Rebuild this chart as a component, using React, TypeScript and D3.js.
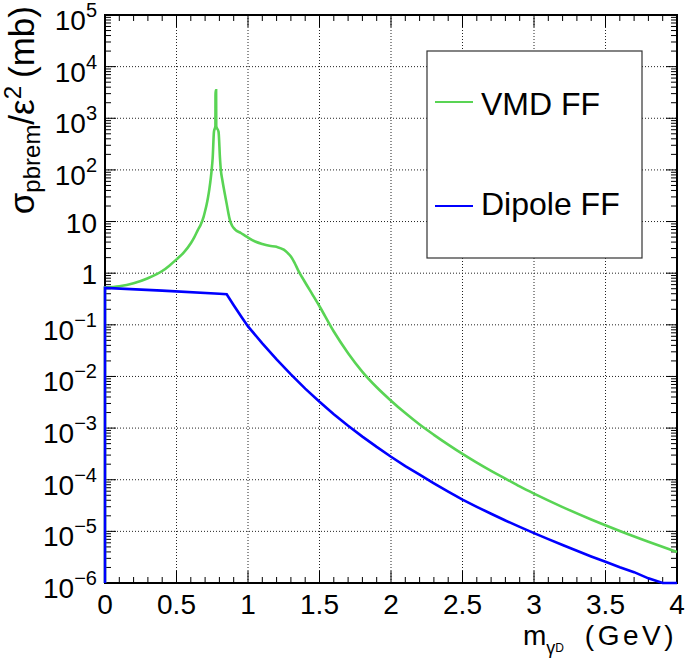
import React from "react";
import * as d3 from "d3";

// ---- data ----
const massVMD = [0, 0.1, 0.2, 0.3, 0.4, 0.45, 0.5, 0.55, 0.6, 0.625, 0.65, 0.67, 0.69, 0.7, 0.71, 0.72, 0.73, 0.74, 0.746, 0.753, 0.762, 0.772, 0.773, 0.777, 0.778, 0.794, 0.804, 0.81, 0.82, 0.83, 0.84, 0.851, 0.862, 0.874, 0.89, 0.91, 0.95, 0.99, 1.05, 1.1, 1.15, 1.2, 1.25, 1.275, 1.3, 1.325, 1.35, 1.4, 1.45, 1.5, 1.6, 1.7, 1.8, 1.9, 2.0, 2.1, 2.2, 2.3, 2.4, 2.5, 2.6, 2.7, 2.8, 2.9, 3.0, 3.2, 3.4, 3.6, 3.8, 4.0];
const xsecVMD = [0.53, 0.56, 0.64, 0.8, 1.1, 1.4, 1.85, 2.5, 3.8, 5.0, 6.9, 8.8, 12.5, 16, 21, 29, 43, 70, 100, 170, 550, 700, 3500, 3500, 700, 550, 170, 100, 65, 45, 32, 22, 15, 10.5, 8.2, 7, 6, 5.1, 4.1, 3.67, 3.39, 3.24, 2.85, 2.5, 2.1, 1.6, 1.15, 0.66, 0.39, 0.229, 0.0741, 0.0282, 0.0123, 0.00617, 0.00339, 0.00195, 0.00117, 0.000741, 0.000479, 0.000316, 0.000214, 0.000148, 0.000105, 0.0000741, 0.0000537, 0.0000295, 0.000017, 0.0000102, 0.00000631, 0.00000398];

const massDipole = [0, 0.4, 0.8, 0.851, 0.9, 0.95, 1.0, 1.1, 1.2, 1.3, 1.4, 1.5, 1.6, 1.7, 1.8, 1.9, 2.0, 2.1, 2.2, 2.3, 2.4, 2.5, 2.6, 2.7, 2.8, 2.9, 3.0, 3.1, 3.2, 3.3, 3.4, 3.5, 3.6, 3.7, 3.8, 3.9, 4.0];
const xsecDipole = [0.52, 0.46, 0.4, 0.39, 0.24, 0.148, 0.0933, 0.0437, 0.0214, 0.011, 0.00582, 0.00324, 0.00186, 0.00111, 0.000684, 0.000432, 0.000279, 0.000184, 0.000125, 0.0000851, 0.0000589, 0.0000412, 0.0000299, 0.0000219, 0.0000162, 0.0000122, 0.00000923, 0.00000708, 0.00000543, 0.00000422, 0.00000327, 0.00000257, 0.00000202, 0.00000162, 0.00000123, 0.00000095, 0.00000079];

const seriesNames = ["VMD FF", "Dipole FF"];
const seriesColors = ["#59d454", "#0000ff"];

const xMajorTicks = [0, 0.5, 1, 1.5, 2, 2.5, 3, 3.5, 4];
const xTickLabels = ["0", "0.5", "1", "1.5", "2", "2.5", "3", "3.5", "4"];
const yDecades = [-6, -5, -4, -3, -2, -1, 0, 1, 2, 3, 4, 5];

// ---- layout ----
const W = 685, H = 665;
const L = 105, R = 677, T = 15, B = 583;
const FONT = "'Liberation Sans', Arial, Helvetica, sans-serif";

export default function App() {
  const x = d3.scaleLinear().domain([0, 4]).range([L, R]);
  const y = d3.scaleLog().domain([1e-6, 1e5]).range([B, T]).clamp(true);

  const makePath = (ms: number[], vs: number[], curve: d3.CurveFactory) => {
    const line = d3
      .line<[number, number]>()
      .x((d) => x(d[0]))
      .y((d) => y(d[1]))
      .curve(curve);
    const pts = ms.map((m, i) => [m, vs[i]] as [number, number]);
    const s = line(pts) || "";
    return `M${x(ms[0])},${B}` + s.replace(/^M/, "L");
  };

  const xMinor = d3
    .range(0, 41)
    .map((i) => i / 10)
    .filter((v) => Math.abs(v * 2 - Math.round(v * 2)) > 1e-6);
  const yMinor: number[] = [];
  yDecades.slice(0, -1).forEach((d) => {
    for (let k = 2; k <= 9; k++) yMinor.push(k * Math.pow(10, d));
  });

  const gridStyle = { stroke: "#222", strokeWidth: 1, strokeDasharray: "1,2" };

  const yLabel = (d: number) => {
    const yy = y(Math.pow(10, d));
    if (d === 0 || d === 1) {
      return (
        <text key={d} x={97} y={yy + 11} textAnchor="end" fontSize={28}>
          {d === 0 ? "1" : "10"}
        </text>
      );
    }
    const exp = d < 0 ? "\u2212" + Math.abs(d) : String(d);
    return (
      <text key={d} x={97} y={yy + 15} textAnchor="end" fontSize={28}>
        10
        <tspan dy={-13} fontSize={20}>
          {exp}
        </tspan>
      </text>
    );
  };

  return (
    <svg
      width={W}
      height={H}
      style={{ position: "absolute", left: 0, top: 0, background: "#fff" }}
      fontFamily={FONT}
    >
      <defs>
        <clipPath id="plotclip">
          <rect x={L - 3} y={T - 3} width={R - L + 6} height={B - T + 6} />
        </clipPath>
      </defs>
      <rect x={0} y={0} width={W} height={H} fill="#fff" />

      {/* grid */}
      <g>
        {xMajorTicks.slice(1, -1).map((v) => (
          <line key={"gx" + v} x1={x(v)} x2={x(v)} y1={T} y2={B} {...gridStyle} />
        ))}
        {yDecades.slice(1, -1).map((d) => (
          <line key={"gy" + d} x1={L} x2={R} y1={y(Math.pow(10, d))} y2={y(Math.pow(10, d))} {...gridStyle} />
        ))}
      </g>

      {/* ticks */}
      <g stroke="#000" strokeWidth={1}>
        {xMajorTicks.map((v) => (
          <g key={"tx" + v}>
            <line x1={x(v)} x2={x(v)} y1={B} y2={B - 12} />
            <line x1={x(v)} x2={x(v)} y1={T} y2={T + 12} />
          </g>
        ))}
        {xMinor.map((v) => (
          <g key={"mx" + v}>
            <line x1={x(v)} x2={x(v)} y1={B} y2={B - 6} />
            <line x1={x(v)} x2={x(v)} y1={T} y2={T + 6} />
          </g>
        ))}
        {yDecades.map((d) => (
          <g key={"ty" + d}>
            <line x1={L} x2={L + 11} y1={y(Math.pow(10, d))} y2={y(Math.pow(10, d))} />
            <line x1={R} x2={R - 11} y1={y(Math.pow(10, d))} y2={y(Math.pow(10, d))} />
          </g>
        ))}
        {yMinor.map((v, i) => (
          <g key={"my" + i}>
            <line x1={L} x2={L + 6} y1={y(v)} y2={y(v)} />
            <line x1={R} x2={R - 6} y1={y(v)} y2={y(v)} />
          </g>
        ))}
      </g>

      {/* frame */}
      <rect x={L} y={T} width={R - L} height={B - T} fill="none" stroke="#000" strokeWidth={2} />

      {/* curves */}
      <g clipPath="url(#plotclip)" fill="none" strokeWidth={2.6} strokeLinejoin="miter">
        <path d={makePath(massVMD, xsecVMD, d3.curveMonotoneX)} stroke={seriesColors[0]} />
        <path d={makePath(massDipole, xsecDipole, d3.curveLinear)} stroke={seriesColors[1]} />
      </g>

      {/* x tick labels */}
      {xMajorTicks.map((v, i) => (
        <text key={"lx" + v} x={x(v)} y={614} textAnchor="middle" fontSize={28}>
          {xTickLabels[i]}
        </text>
      ))}

      {/* y tick labels */}
      {yDecades.map((d) => yLabel(d))}

      {/* x title */}
      <text x={523} y={645} fontSize={28}>
        m
        <tspan fontSize={18} dy={9}>
          γ
        </tspan>
        <tspan fontSize={12} dy={-2}>
          D
        </tspan>
      </text>
      <text x={677} y={645} textAnchor="end" fontSize={28} letterSpacing={3.5}>
        (GeV)
      </text>

      {/* y title */}
      <text transform="translate(34,6) rotate(-90)" textAnchor="end" fontSize={35}>
        σ
        <tspan fontSize={24} dy={6}>
          pbrem
        </tspan>
        <tspan dy={-6}>/ε</tspan>
        <tspan fontSize={24} dy={-13}>
          2
        </tspan>
        <tspan dy={13} dx={8}>
          (mb)
        </tspan>
      </text>

      {/* legend */}
      <g>
        <rect x={427} y={51} width={215} height={207} fill="#fff" stroke="#333" strokeWidth={1.2} />
        <line x1={435} x2={473} y1={102} y2={102} stroke={seriesColors[0]} strokeWidth={2} />
        <text x={481} y={115} fontSize={32}>
          {seriesNames[0]}
        </text>
        <line x1={435} x2={473} y1={206} y2={206} stroke={seriesColors[1]} strokeWidth={2} />
        <text x={481} y={215} fontSize={32}>
          {seriesNames[1]}
        </text>
      </g>
    </svg>
  );
}
